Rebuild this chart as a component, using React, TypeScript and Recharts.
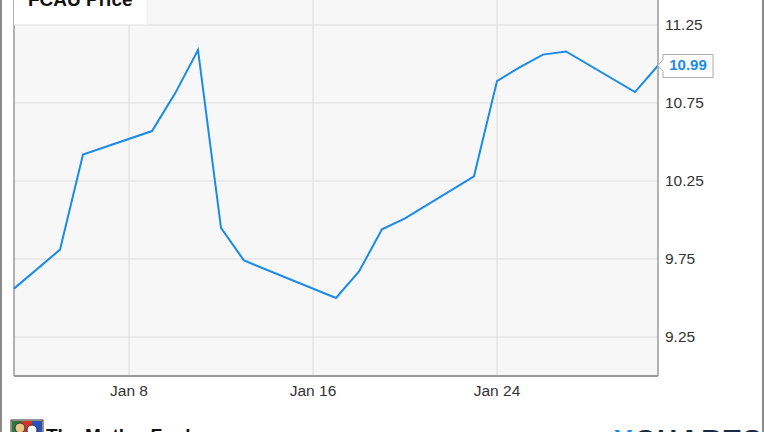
import { LineChart, Line, XAxis, YAxis, CartesianGrid, ReferenceLine, LabelList } from "recharts";

// January trading days (day of month) and FCAU closing prices
const DAYS = [3, 5, 6, 9, 10, 11, 12, 13, 17, 18, 19, 20, 23, 24, 25, 26, 27, 30, 31];
const PRICES = [9.56, 9.81, 10.42, 10.57, 10.81, 11.09, 9.95, 9.74, 9.5, 9.67, 9.94, 10.01, 10.28, 10.89, 10.98, 11.06, 11.08, 10.82, 10.99];

const X_TICKS = [8, 16, 24];
const Y_TICKS = [9.25, 9.75, 10.25, 10.75, 11.25];

const LINE_COLOR = "#1a8be8";
const BORDER = "#9a9a9a";
const FONT = "'Liberation Sans', Arial, sans-serif";

const data = DAYS.map((d, i) => ({ day: d, price: PRICES[i] }));

// callout box for the latest price, attached to the last point
const LastValueLabel = (props: any) => {
  const { x, y, value, index } = props;
  if (index !== data.length - 1) return null;
  const bx = x + 5;
  return (
    <g>
      <path
        d={`M${x},${y} L${bx},${y - 6} L${bx},${y - 11} L${bx + 50},${y - 11} L${bx + 50},${y + 12} L${bx},${y + 12} L${bx},${y + 6} Z`}
        fill="#fff"
        stroke="#aaa"
        strokeWidth={1}
      />
      <text
        x={bx + 25}
        y={y + 1}
        textAnchor="middle"
        dominantBaseline="middle"
        fill={LINE_COLOR}
        fontWeight="bold"
        fontSize={15}
        fontFamily={FONT}
      >
        {Number(value).toFixed(2)}
      </text>
    </g>
  );
};

export default function App() {
  return (
    <div style={{ position: "relative", width: 764, height: 432, overflow: "hidden", background: "#fff", fontFamily: FONT }}>
      <style>{`body{margin:0}`}</style>
      <LineChart width={764} height={432} data={data} margin={{ top: 0, right: 0, bottom: 0, left: 14 }}>
        <CartesianGrid fill="#f7f7f7" stroke="#dddddd" horizontalValues={Y_TICKS} verticalValues={X_TICKS} />
        <XAxis
          dataKey="day"
          type="number"
          domain={[3, 31]}
          ticks={X_TICKS}
          tickFormatter={(d) => `Jan ${d}`}
          axisLine={{ stroke: BORDER, strokeWidth: 2 }}
          tickLine={false}
          tickSize={0}
          tickMargin={9}
          height={56}
          tick={{ fill: "#333", fontSize: 15.5, fontFamily: FONT }}
        />
        <YAxis
          orientation="right"
          type="number"
          domain={[9, 11.41]}
          ticks={Y_TICKS}
          tickFormatter={(v) => v.toFixed(2)}
          axisLine={{ stroke: BORDER, strokeWidth: 1.5 }}
          tickLine={false}
          tickSize={0}
          tickMargin={7}
          width={106}
          tick={{ fill: "#333", fontSize: 15.5, fontFamily: FONT }}
        />
        <ReferenceLine x={3} stroke={BORDER} strokeWidth={1.5} />
        <Line
          type="linear"
          dataKey="price"
          stroke={LINE_COLOR}
          strokeWidth={2}
          dot={false}
          isAnimationActive={false}
        >
          <LabelList dataKey="price" content={LastValueLabel} />
        </Line>
      </LineChart>

      {/* title tab */}
      <div
        style={{
          position: "absolute",
          left: 14,
          top: -6,
          width: 133,
          height: 30,
          background: "#fff",
          borderBottom: "1px solid #eee",
          borderRight: "1px solid #eee",
        }}
      >
        <span style={{ position: "absolute", left: 14, top: -5, fontSize: 19, fontWeight: "bold", color: "#111", lineHeight: "22px" }}>
          FCAU Price
        </span>
      </div>

      {/* outer frame */}
      <div style={{ position: "absolute", left: 0, top: 0, width: 2, height: 432, background: "#8a8a8a" }} />
      <div style={{ position: "absolute", left: 762, top: 0, width: 2, height: 432, background: "#8a8a8a" }} />

      {/* footer logos */}
      <svg style={{ position: "absolute", left: 0, top: 0 }} width={764} height={432}>
        <rect x={11} y={420} width={32} height={14} fill="#f2e6c8" stroke="#333" strokeWidth={1} />
        <rect x={12} y={421} width={10} height={12} fill="#2a7a3a" />
        <rect x={22} y={421} width={10} height={12} fill="#d8302a" />
        <rect x={32} y={421} width={10} height={12} fill="#2a52b8" />
        <circle cx={20} cy={428} r={5} fill="#e9c98a" stroke="#333" strokeWidth={1} />
        <circle cx={32} cy={430} r={5} fill="#fff" stroke="#333" strokeWidth={1} />
        <text x={46} y={442} fontSize={19} fontWeight="bold" fill="#111" fontFamily={FONT}>
          The Motley Fool
        </text>
        <text x={614} y={449} fontSize={28} fontWeight="bold" fill="#1c2a44" fontFamily={FONT} letterSpacing={2}>
          <tspan fill="#1a8be8">Y</tspan>CHARTS
        </text>
      </svg>
    </div>
  );
}
